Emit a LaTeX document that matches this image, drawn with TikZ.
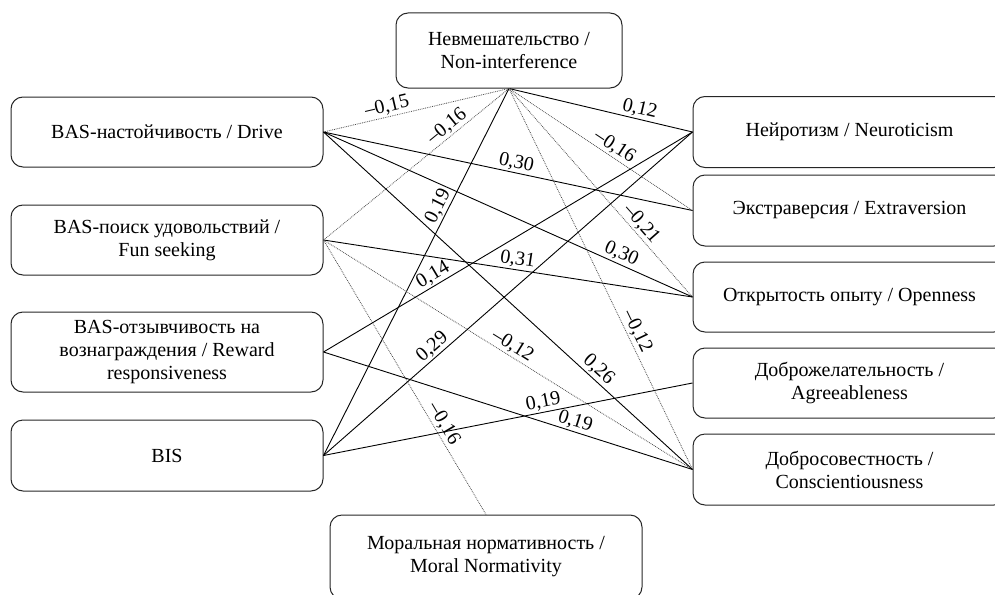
\documentclass[tikz,border=0pt]{standalone}
\usepackage{fontspec}
\setmainfont{Liberation Serif}
\begin{document}
\begin{tikzpicture}[x=1pt,y=-1pt,
  box/.style={draw=black!85, line width=1pt, rounded corners=12pt, inner sep=0pt, align=center, font=\fontsize{20}{23}\selectfont},
  lk/.style={line width=0.9pt, black},
  dt/.style={line width=0.8pt, black!70, densely dotted},
  lab/.style={sloped, above, inner sep=1.5pt, text=black, font=\fontsize{20}{23}\selectfont}]
\useasboundingbox (0,0) rectangle (995,594);
\clip (0,0) rectangle (995,594);
% boxes
\node[box, minimum width=226pt, minimum height=75pt] (N) at (509,50.5) {Невмешательство /\\Non-interference};
\node[box, minimum width=312pt, minimum height=70pt] (D) at (167,132) {BAS-настойчивость / Drive};
\node[box, minimum width=312pt, minimum height=70pt] (F) at (167,240) {BAS-поиск удовольствий /\\Fun seeking};
\node[box, minimum width=312pt, minimum height=80pt] (R) at (167,352) {BAS-отзывчивость на\\вознаграждения / Reward\\responsiveness};
\node[box, minimum width=312pt, minimum height=71pt] (B) at (167,455.5) {BIS};
\node[box, minimum width=313pt, minimum height=71pt] (Ne) at (849.5,132) {Нейротизм / Neuroticism};
\node[box, minimum width=313pt, minimum height=71pt] (Ex) at (849.5,210.5) {Экстраверсия / Extraversion};
\node[box, minimum width=313pt, minimum height=70pt] (Op) at (849.5,297) {Открытость опыту / Openness};
\node[box, minimum width=313pt, minimum height=70pt] (Ag) at (849.5,383) {Доброжелательность /\\Agreeableness};
\node[box, minimum width=313pt, minimum height=71pt] (Co) at (849.5,469.5) {Добросовестность /\\Conscientiousness};
\node[box, minimum width=312pt, minimum height=84pt] (M) at (486,557) {Моральная нормативность /\\Moral Normativity};
% connectors
\draw[dt] (D.east) -- node[lab,pos=0.355]{–0,15} (N.south);
\draw[dt] (F.east) -- node[lab,pos=0.70]{–0,16} (N.south);
\draw[lk] (B.east) -- node[lab,pos=0.667]{0,19} (N.south);
\draw[lk] (N.south) -- node[lab,pos=0.70]{0,12} (Ne.west);
\draw[dt] (N.south) -- node[lab,pos=0.546]{–0,16} (Ex.west);
\draw[dt] (N.south) -- node[lab,pos=0.681]{–0,21} (Op.west);
\draw[dt] (N.south) -- node[lab,pos=0.649]{–0,12} (Co.west);
\draw[lk] (D.east) -- node[lab,pos=0.517]{0,30} (Ex.west);
\draw[lk] (D.east) -- node[lab,pos=0.796]{0,30} (Op.west);
\draw[lk] (D.east) -- node[lab,pos=0.727]{0,26} (Co.west);
\draw[lk] (F.east) -- node[lab,pos=0.522]{0,31} (Op.west);
\draw[dt] (F.east) -- node[lab,pos=0.498]{–0,12} (Co.west);
\draw[dt] (F.east) -- node[lab,pos=0.688]{–0,16} (M.north);
\draw[lk] (R.east) -- node[lab,pos=0.311]{0,14} (Ne.west);
\draw[lk] (R.east) -- node[lab,pos=0.674]{0,19} (Co.west);
\draw[lk] (B.east) -- node[lab,pos=0.313]{0,29} (Ne.west);
\draw[lk] (B.east) -- node[lab,pos=0.601]{0,19} (Ag.west);
\end{tikzpicture}
\end{document}
